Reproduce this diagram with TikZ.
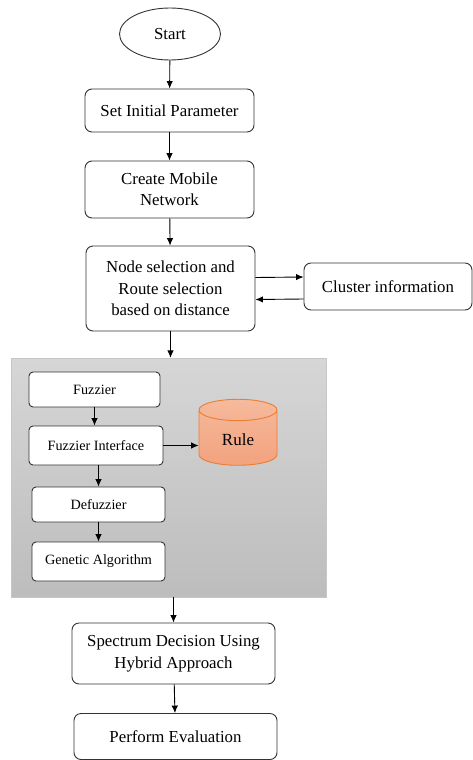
\documentclass[tikz,border=0pt]{standalone}
\usepackage{fontspec}
\setmainfont{Liberation Serif}
\usetikzlibrary{shapes.geometric,arrows.meta,calc}

\definecolor{ruletop}{HTML}{F5BA9C}
\definecolor{rulebottom}{HTML}{F3A27F}
\definecolor{ruleedge}{HTML}{ED7D31}

\begin{document}
\begin{tikzpicture}[
      x=1pt, y=-1pt,
      block/.style = {
        draw=black!80,
        line width=0.9pt,
        fill=white,
        rounded corners=7pt,
        align=center,
        inner sep=0pt,
        font=\fontsize{16.8}{21.5}\selectfont
      },
      subblock/.style = {
        draw=black!80,
        line width=0.9pt,
        fill=white,
        rounded corners=4pt,
        inner sep=0pt,
        font=\fontsize{14.2}{16}\selectfont
      },
      arc/.style = {
        ->,
        >={Latex[length=7.5pt,width=6.5pt]},
        line width=0.9pt
      }
    ]
    \useasboundingbox (0,0) rectangle (472,760);

    \node[ellipse, draw=black!80, line width=0.9pt, minimum width=101pt, minimum height=52pt,
      font=\fontsize{16.8}{20}\selectfont] (start) at (170,34) {Start};
    \node[block, minimum width=169pt, minimum height=43pt] (init) at (169.5,110.5) {Set Initial Parameter};
    \node[block, minimum width=169pt, minimum height=57pt] (mobile) at (169.5,189.5) {Create Mobile\\Network};
    \node[block, minimum width=169pt, minimum height=85pt] (select) at (170.5,288.5) {Node selection and\\Route selection\\based on distance};
    \node[block, minimum width=168pt, minimum height=47pt] (cluster) at (388,286.5) {Cluster information};

    % fuzzy part
    \node[draw=black!22, top color=black!16, bottom color=black!26,
      minimum width=315pt, minimum height=239pt] (panel) at (168.5,477.5) {};
    \node[subblock, minimum width=131pt, minimum height=35pt] (fuzz) at (94.5,389.5) {Fuzzier};
    \node[subblock, minimum width=134pt, minimum height=39pt] (iface) at (96,445.5) {Fuzzier Interface};
    \node[subblock, minimum width=133pt, minimum height=35pt] (defuzz) at (98.5,504.5) {Defuzzier};
    \node[subblock, minimum width=133pt, minimum height=39pt] (genetic) at (98.5,561.5) {Genetic Algorithm};
    \node[cylinder, shape border rotate=90, aspect=0.55, draw=ruleedge, line width=0.9pt,
      top color=ruletop, bottom color=rulebottom,
      minimum width=78pt, minimum height=66pt,
      font=\fontsize{17}{20}\selectfont] (rule) at (238,440) {Rule};

    \node[block, minimum width=203pt, minimum height=61pt] (hybrid) at (173.5,653.5) {Spectrum Decision Using\\Hybrid Approach};
    \node[block, minimum width=203pt, minimum height=46pt] (eval) at (175.5,736.5) {Perform Evaluation};

    \draw[arc] (start) -- (init);
    \draw[arc] (init) -- (mobile);
    \draw[arc] (mobile) -- (select);
    \draw[arc] ($(select.east)+(0,-11)$) -- ($(cluster.west)+(0,-9.5)$);
    \draw[arc] ($(cluster.west)+(0,12.5)$) -- ($(select.east)+(0,11)$);
    \draw[arc] (select.south) -- (select.south |- panel.north);
    \draw[arc] (fuzz.south) -- (fuzz.south |- iface.north);
    \draw[arc] (iface.east) -- (rule.west |- iface.east);
    \draw[arc] (iface.south -| defuzz.north) -- (defuzz.north);
    \draw[arc] (defuzz) -- (genetic);
    \draw[arc] (hybrid.north |- panel.south) -- (hybrid.north);
    \draw[arc] (hybrid) -- (eval);
  \end{tikzpicture}
\end{document}
